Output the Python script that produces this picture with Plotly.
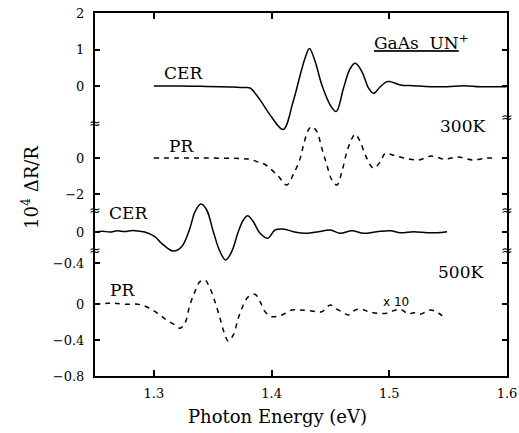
import plotly.graph_objects as go

# ---------------- data ----------------
# CER 300K (solid), units of 10^4 dR/R
cer300_e = [1.300, 1.322, 1.339, 1.356, 1.367, 1.377, 1.3817, 1.3902, 1.3987, 1.4098, 1.4183,
            1.4243, 1.4285, 1.4322, 1.4370, 1.4427, 1.4498, 1.4549, 1.4611, 1.4668, 1.4711,
            1.4768, 1.4824, 1.4866, 1.4923, 1.4980, 1.5009, 1.5094, 1.5204, 1.5349, 1.5494,
            1.5630, 1.5774, 1.5996]
cer300_v = [0.0, 0.0, -0.01, -0.02, -0.03, -0.04, -0.055, -0.38, -0.79, -1.19, -0.43,
            0.30, 0.77, 1.03, 0.67, 0.03, -0.52, -0.70, -0.06, 0.48, 0.62,
            0.39, -0.06, -0.20, -0.02, 0.12, 0.12, 0.03, 0.01, -0.02, -0.02,
            0.01, -0.02, -0.02]

# PR 300K (dashed)
pr300_e = [1.300, 1.3391, 1.3732, 1.3817, 1.3877, 1.3945, 1.4055, 1.4129, 1.4183, 1.4243,
           1.4271, 1.4313, 1.4342, 1.4385, 1.4427, 1.4470, 1.4512, 1.4555, 1.4597, 1.4640,
           1.4683, 1.4711, 1.4753, 1.4796, 1.4866, 1.4923, 1.4966, 1.5026, 1.5128, 1.5247,
           1.5357, 1.5468, 1.5587, 1.5706, 1.5826, 1.5902]
pr300_v = [0.0, 0.0, -0.03, -0.07, -0.20, -0.36, -1.00, -1.50, -0.94, -0.02,
           0.72, 1.56, 1.74, 1.46, 0.54, -0.39, -1.22, -1.50, -0.76, 0.35,
           1.09, 1.32, 0.91, 0.17, -0.57, -0.21, 0.26, 0.17, 0.0, -0.11,
           0.11, -0.06, 0.06, -0.11, 0.0, 0.0]

# CER 500K (solid)
cer500_e = [1.250, 1.2563, 1.2626, 1.2690, 1.2753, 1.2817, 1.2881, 1.2923, 1.3009, 1.3066,
            1.3164, 1.3236, 1.3306, 1.3349, 1.3400, 1.3449, 1.3505, 1.3562, 1.3610, 1.3661,
            1.3717, 1.3760, 1.3797, 1.3845, 1.3902, 1.3968, 1.4030, 1.4100, 1.4186, 1.4300,
            1.4398, 1.4498, 1.4583, 1.4683, 1.4781, 1.4895, 1.5009, 1.5094, 1.5207, 1.5321,
            1.5406, 1.5491]
cer500_v = [0.0, 0.01, 0.0, 0.015, 0.005, 0.02, 0.01, 0.0, -0.06, -0.146,
            -0.245, -0.19, 0.048, 0.26, 0.36, 0.284, 0.004, -0.254, -0.361, -0.254,
            0.004, 0.155, 0.21, 0.133, -0.017, -0.08, 0.026, 0.039, 0.004, -0.017,
            0.004, 0.026, -0.017, 0.017, -0.017, 0.004, 0.017, -0.009, 0.004, -0.009,
            -0.009, 0.004]

# PR 500K (dashed)
pr500_e = [1.250, 1.2611, 1.2668, 1.2753, 1.2866, 1.2966, 1.3051, 1.3108, 1.3179, 1.3221,
           1.3264, 1.3306, 1.3349, 1.3391, 1.3434, 1.3477, 1.3519, 1.3562, 1.3604, 1.3632,
           1.3675, 1.3717, 1.3760, 1.3803, 1.3860, 1.3902, 1.3945, 1.4002, 1.4087, 1.4172,
           1.4243, 1.4342, 1.4427, 1.4498, 1.4540, 1.4597, 1.4654, 1.4711, 1.4768, 1.4824,
           1.4895, 1.4980, 1.5037, 1.5094, 1.5164, 1.5207, 1.5264, 1.5349, 1.5420, 1.5462]
pr500_v = [0.0, 0.008, 0.008, -0.003, -0.003, -0.048, -0.122, -0.178, -0.233, -0.27,
           -0.214, -0.011, 0.137, 0.248, 0.267, 0.174, 0.026, -0.159, -0.344, -0.411,
           -0.344, -0.159, -0.011, 0.081, 0.108, 0.026, -0.086, -0.141, -0.122, -0.067,
           -0.067, -0.078, -0.086, -0.011, -0.048, -0.086, -0.122, -0.067, -0.059, -0.086,
           -0.103, -0.103, -0.074, -0.059, -0.111, -0.097, -0.114, -0.067, -0.103, -0.148]

x_ticks = [1.3, 1.4, 1.5, 1.6]
x_ticklabels = ["1.3", "1.4", "1.5", "1.6"]
y1_ticks, y1_labels = [0, 1, 2], ["0", "1", "2"]
y2_ticks, y2_labels = [0, -2], ["0", "\u22122"]
y3_ticks, y3_labels = [0, -0.4], ["0", "\u22120.4"]
y4_ticks, y4_labels = [0, -0.4, -0.8], ["0", "\u22120.4", "\u22120.8"]

# ---------------- figure ----------------
W, H = 519, 433
ML, MR, MT, MB = 95, 12, 13, 57
PW, PH = W - ML - MR, H - MT - MB


def px_x(p):
    return (p - ML) / PW


def px_y(p):
    return (H - MB - p) / PH


SERIF = "DejaVu Serif"
solid = dict(color="black", width=1.5)
dashed = dict(color="black", width=1.5, dash="5px,5px")

fig = go.Figure()
fig.add_trace(go.Scatter(x=cer300_e, y=cer300_v, mode="lines", line=solid, yaxis="y", line_shape="spline"))
fig.add_trace(go.Scatter(x=pr300_e, y=pr300_v, mode="lines", line=dashed, yaxis="y2", line_shape="spline"))
fig.add_trace(go.Scatter(x=cer500_e, y=cer500_v, mode="lines", line=solid, yaxis="y3", line_shape="spline"))
fig.add_trace(go.Scatter(x=pr500_e, y=pr500_v, mode="lines", line=dashed, yaxis="y4", line_shape="spline"))

tickfont = dict(family=SERIF, size=13, color="black")


def yax(rng, tv, tt, **kw):
    d = dict(range=rng, tickvals=tv, ticktext=tt, ticks="inside", ticklen=5, tickwidth=1.5,
             tickcolor="black", showline=True, linecolor="black", linewidth=2, mirror="ticks",
             showgrid=False, zeroline=False, tickfont=tickfont, ticklabelstandoff=6,
             automargin=False)
    d.update(kw)
    return d


fig.update_layout(
    width=W, height=H,
    margin=dict(l=ML, r=MR, t=MT, b=MB, pad=0),
    plot_bgcolor="white", paper_bgcolor="white",
    showlegend=False,
    xaxis=dict(range=[1.25, 1.6], tickvals=x_ticks, ticktext=x_ticklabels, ticks="inside",
               ticklen=6, tickwidth=1.5, tickcolor="black", showline=True, linecolor="black",
               linewidth=2, mirror="ticks", showgrid=False, zeroline=False, tickfont=tickfont,
               ticklabelstandoff=4, automargin=False),
    yaxis=yax([-7.945, 2.0], y1_ticks, y1_labels),
    yaxis2=yax([-12.11, 8.056], y2_ticks, y2_labels, overlaying="y", anchor="x"),
    yaxis3=yax([-1.858, 2.826], y3_ticks, y3_labels, overlaying="y", anchor="x"),
    yaxis4=yax([-0.8, 3.233], y4_ticks, y4_labels, overlaying="y", anchor="x"),
)

ann_font = dict(family=SERIF, size=17, color="black")
labels = [
    ("CER", 183, 73), ("PR", 181, 146), ("CER", 128, 213), ("PR", 122, 290),
    ("300K", 462, 126), ("500K", 460, 272),
]
for t, x, y in labels:
    fig.add_annotation(text=t, x=px_x(x), y=px_y(y), xref="paper", yref="paper",
                       showarrow=False, font=ann_font, xanchor="center", yanchor="middle")

fig.add_annotation(text="<u>GaAs\u00a0\u00a0UN</u><sup>+</sup>", x=px_x(421), y=px_y(42),
                   xref="paper", yref="paper", showarrow=False, font=ann_font,
                   xanchor="center", yanchor="middle")
fig.add_annotation(text="x 10", x=px_x(396), y=px_y(302), xref="paper", yref="paper",
                   showarrow=False, font=dict(family="DejaVu Sans", size=12, color="black"),
                   xanchor="center", yanchor="middle")
fig.add_annotation(text="10<sup>4</sup> \u0394R/R", x=px_x(30), y=px_y(188), xref="paper",
                   yref="paper", showarrow=False, textangle=-90,
                   font=dict(family=SERIF, size=18, color="black"),
                   xanchor="center", yanchor="middle")
fig.add_annotation(text="Photon Energy (eV)", x=px_x(277), y=px_y(416), xref="paper",
                   yref="paper", showarrow=False,
                   font=dict(family=SERIF, size=18, color="black"),
                   xanchor="center", yanchor="middle")

# axis break marks
for xp, yp in [(0, 123), (0, 210), (0, 250), (1, 117), (1, 210), (1, 250)]:
    fig.add_annotation(text="\u2248", x=xp, y=px_y(yp), xref="paper", yref="paper",
                       showarrow=False, font=dict(family="DejaVu Sans", size=14, color="black"),
                       xanchor="center", yanchor="middle")

fig.write_html("out.html", config={"displayModeBar": False},
               post_script="document.body.style.margin='0';document.body.style.padding='0';"
                           "document.documentElement.style.overflow='hidden';")
